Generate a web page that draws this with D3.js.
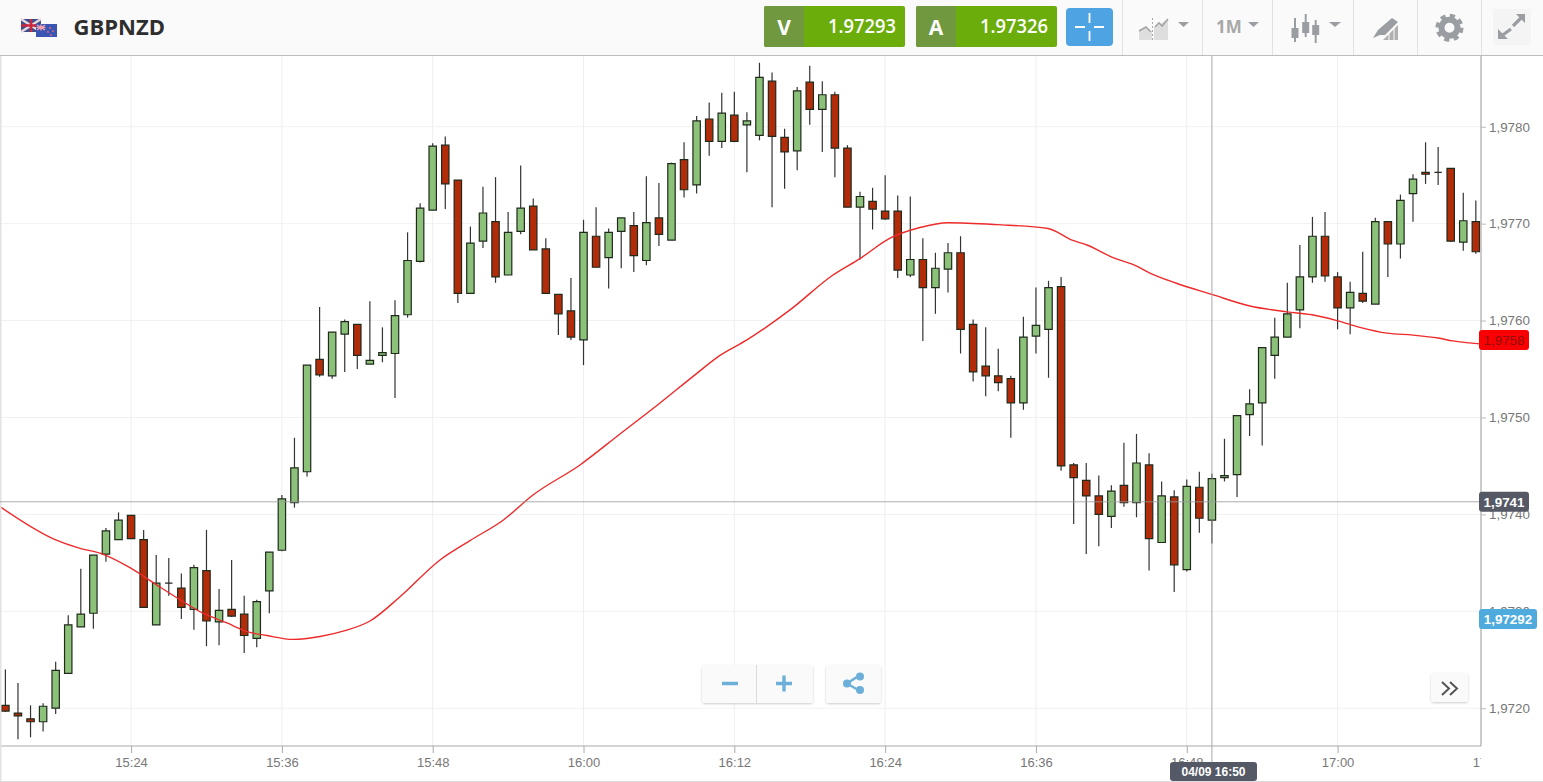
<!DOCTYPE html>
<html>
<head>
<meta charset="utf-8">
<title>GBPNZD</title>
<script src="https://cdn.jsdelivr.net/npm/d3@7"></script>
<style>
    html, body { margin: 0; padding: 0; background: #fff; overflow: hidden; }
    text { font-family: "Liberation Sans", Arial, sans-serif; }
    .tick-label { fill: #777; }
</style>
</head>
<body>
<div id="chart"></div>
<script>

// candles, one per minute from 15:14
var candleOpen = [
    1.97203,1.97195,1.97189,1.97186,1.97200,1.97236,1.97284,1.97298,1.97359,1.97374,
    1.97399,1.97374,1.97286,1.97329,1.97324,1.97302,1.97342,1.97289,1.97302,1.97297,
    1.97272,1.97321,1.97363,1.97412,1.97444,1.97560,1.97543,1.97586,1.97596,1.97555,
    1.97564,1.97566,1.97606,1.97661,1.97714,1.97781,1.97745,1.97628,1.97682,1.97702,
    1.97647,1.97692,1.97718,1.97674,1.97627,1.97610,1.97580,1.97687,1.97665,1.97692,
    1.97698,1.97662,1.97706,1.97683,1.97766,1.97740,1.97808,1.97785,1.97812,1.97802,
    1.97791,1.97847,1.97789,1.97775,1.97846,1.97818,1.97833,1.97778,1.97717,1.97723,
    1.97713,1.97713,1.97647,1.97663,1.97634,1.97653,1.97670,1.97596,1.97553,1.97543,
    1.97540,1.97515,1.97584,1.97591,1.97635,1.97451,1.97435,1.97419,1.97398,1.97430,
    1.97412,1.97451,1.97371,1.97418,1.97343,1.97428,1.97394,1.97438,1.97441,1.97503,
    1.97515,1.97564,1.97583,1.97611,1.97645,1.97687,1.97645,1.97613,1.97628,1.97617,
    1.97702,1.97679,1.97731,1.97753,1.97753,1.97757,1.97681,1.97702
];
var candleClose = [
    1.97197,1.97192,1.97186,1.97202,1.97239,1.97286,1.97297,1.97358,1.97383,1.97394,
    1.97375,1.97304,1.97329,1.97329,1.97304,1.97345,1.97290,1.97301,1.97295,1.97275,
    1.97310,1.97361,1.97416,1.97448,1.97554,1.97544,1.97588,1.97599,1.97564,1.97559,
    1.97567,1.97605,1.97662,1.97716,1.97780,1.97741,1.97628,1.97680,1.97711,1.97645,
    1.97691,1.97716,1.97673,1.97628,1.97607,1.97583,1.97691,1.97655,1.97691,1.97706,
    1.97667,1.97701,1.97689,1.97762,1.97735,1.97806,1.97785,1.97814,1.97785,1.97806,
    1.97851,1.97790,1.97774,1.97837,1.97818,1.97833,1.97778,1.97717,1.97728,1.97715,
    1.97705,1.97652,1.97663,1.97634,1.97654,1.97670,1.97591,1.97547,1.97543,1.97536,
    1.97515,1.97583,1.97595,1.97634,1.97450,1.97438,1.97419,1.97400,1.97424,1.97412,
    1.97453,1.97375,1.97419,1.97348,1.97429,1.97396,1.97437,1.97440,1.97502,1.97514,
    1.97572,1.97583,1.97607,1.97645,1.97687,1.97646,1.97613,1.97629,1.97620,1.97702,
    1.97679,1.97724,1.97746,1.97751,1.97753,1.97682,1.97703,1.97671
];
var candleHigh = [
    1.97240,1.97226,1.97203,1.97205,1.97248,1.97296,1.97344,1.97358,1.97386,1.97402,
    1.97399,1.97384,1.97358,1.97355,1.97339,1.97348,1.97384,1.97323,1.97353,1.97316,
    1.97312,1.97361,1.97420,1.97479,1.97554,1.97614,1.97588,1.97601,1.97596,1.97620,
    1.97593,1.97621,1.97691,1.97721,1.97783,1.97790,1.97745,1.97697,1.97738,1.97748,
    1.97712,1.97760,1.97726,1.97685,1.97627,1.97644,1.97704,1.97717,1.97695,1.97706,
    1.97712,1.97749,1.97742,1.97763,1.97784,1.97811,1.97825,1.97835,1.97836,1.97815,
    1.97866,1.97856,1.97798,1.97841,1.97863,1.97847,1.97836,1.97781,1.97733,1.97737,
    1.97750,1.97729,1.97728,1.97685,1.97670,1.97680,1.97687,1.97601,1.97593,1.97571,
    1.97543,1.97604,1.97634,1.97641,1.97645,1.97453,1.97453,1.97440,1.97430,1.97474,
    1.97483,1.97463,1.97434,1.97425,1.97436,1.97444,1.97442,1.97478,1.97502,1.97529,
    1.97572,1.97603,1.97639,1.97678,1.97707,1.97712,1.97650,1.97640,1.97671,1.97706,
    1.97702,1.97730,1.97751,1.97784,1.97779,1.97757,1.97732,1.97724
];
var candleLow = [
    1.97196,1.97168,1.97170,1.97176,1.97194,1.97236,1.97284,1.97282,1.97351,1.97374,
    1.97375,1.97304,1.97286,1.97316,1.97292,1.97281,1.97264,1.97265,1.97294,1.97257,
    1.97263,1.97298,1.97362,1.97407,1.97439,1.97542,1.97540,1.97547,1.97550,1.97555,
    1.97557,1.97520,1.97603,1.97660,1.97714,1.97715,1.97618,1.97628,1.97675,1.97639,
    1.97647,1.97689,1.97673,1.97628,1.97585,1.97580,1.97554,1.97655,1.97633,1.97654,
    1.97650,1.97657,1.97677,1.97683,1.97727,1.97731,1.97770,1.97778,1.97784,1.97753,
    1.97786,1.97717,1.97736,1.97755,1.97802,1.97774,1.97748,1.97717,1.97663,1.97694,
    1.97704,1.97644,1.97645,1.97579,1.97607,1.97629,1.97566,1.97537,1.97522,1.97527,
    1.97479,1.97508,1.97566,1.97541,1.97445,1.97390,1.97359,1.97367,1.97386,1.97408,
    1.97397,1.97342,1.97371,1.97320,1.97341,1.97381,1.97370,1.97434,1.97418,1.97481,
    1.97471,1.97540,1.97583,1.97592,1.97639,1.97640,1.97591,1.97586,1.97618,1.97617,
    1.97645,1.97664,1.97702,1.97741,1.97740,1.97681,1.97672,1.97669
];

// moving average, minutes after 15:14 and value
var maMinutes = [
    -0.43,3.95,5.94,7.53,9.91,12.06,13.89,15.72,17.63,19.22,20.81,22.88,25.03,27.02,29.01,
    31.4,34.58,36.97,39.6,41.98,45.72,48.9,52.09,54.87,56.86,59,62.43,65.85,68,70.39,72.77,
    75,78.9,82.96,84.87,86.06,88.13,89.88,91.07,93.06,96,99.03,101.97,103.96,105.95,107.78,
    109.93,112,113.99,115.18,117.33
];
var maValues = [
    1.97408,1.97374,1.97365,1.97360,1.97345,1.97327,1.97312,1.97298,1.97288,1.97279,1.97275,
    1.97271,1.97274,1.97280,1.97290,1.97315,1.97353,1.97373,1.97394,1.97420,1.97451,1.97483,
    1.97515,1.97544,1.97564,1.97580,1.97611,1.97647,1.97664,1.97685,1.97696,1.97701,1.97699,
    1.97695,1.97683,1.97678,1.97665,1.97657,1.97649,1.97639,1.97627,1.97615,1.97609,1.97606,
    1.97600,1.97593,1.97587,1.97585,1.97582,1.97579,1.97576
];

var yTicks = [1.972, 1.973, 1.974, 1.975, 1.976, 1.977, 1.978];
var maLast = 1.9758, crossPrice = 1.97413, bidPrice = 1.97292, crossMinute = 96;
var pairName = "GBPNZD", bidText = "1.97293", askText = "1.97326", crossTime = "04/09 16:50";

var startTime = new Date(2015, 8, 4, 15, 14);
var endTime = new Date(2015, 8, 4, 17, 12);
function minuteToDate(m) { return new Date(startTime.getTime() + m * 60000); }

var commaFormat = d3.formatLocale({ decimal: ",", thousands: ".", grouping: [3], currency: ["", ""] });

var plot = { left: 0, right: 1481, top: 56, bottom: 746 };

var svg = d3.select("#chart").append("svg")
    .attr("width", 1543)
    .attr("height", 782)
    .style("display", "block");

var x = d3.scaleTime().domain([startTime, endTime]).range([5.4, 1488.4]);
var y = d3.scaleLinear().domain([1.97161, 1.97873]).range([plot.bottom, plot.top]);

svg.append("defs").append("clipPath").attr("id", "plot-clip")
    .append("rect")
    .attr("x", plot.left).attr("y", plot.top - 1)
    .attr("width", plot.right - plot.left)
    .attr("height", 727);

svg.select("defs").append("filter").attr("id", "btn-shadow")
    .attr("x", "-10%").attr("y", "-10%").attr("width", "120%").attr("height", "130%")
    .append("feDropShadow")
    .attr("dx", 0).attr("dy", 1).attr("stdDeviation", 1)
    .attr("flood-color", "#000").attr("flood-opacity", 0.2);

// grid
svg.append("g").selectAll("line").data(yTicks).enter().append("line")
    .attr("x1", plot.left).attr("x2", plot.right)
    .attr("y1", function (d) { return y(d); }).attr("y2", function (d) { return y(d); })
    .attr("stroke", "#f1f1f1").attr("stroke-width", 1);

var xTicks = x.ticks(d3.timeMinute.every(12));

svg.append("g").attr("clip-path", "url(#plot-clip)")
    .selectAll("line").data(xTicks).enter().append("line")
    .attr("x1", function (d) { return x(d); }).attr("x2", function (d) { return x(d); })
    .attr("y1", plot.top).attr("y2", plot.bottom)
    .attr("stroke", "#eeeeee").attr("stroke-width", 1);

// axes
var xAxis = d3.axisBottom(x).tickValues(xTicks).tickSize(7).tickSizeOuter(0)
    .tickFormat(d3.timeFormat("%H:%M"));
var yAxis = d3.axisRight(y).tickValues(yTicks).tickSize(5).tickSizeOuter(0)
    .tickFormat(commaFormat.format(".4f"));

// the clip sits on an outer group, the axis transform would shift it otherwise
var gx = svg.append("g")
    .attr("clip-path", "url(#plot-clip)")
    .append("g")
    .attr("transform", "translate(0," + plot.bottom + ")")
    .call(xAxis);
gx.select(".domain").remove();
gx.selectAll("line").attr("stroke", "#aaa");
gx.selectAll("text").attr("class", "tick-label").attr("dy", 0).attr("y", 21)
    .attr("font-size", 13).attr("font-family", "'Liberation Sans', Arial, sans-serif");

var gy = svg.append("g")
    .attr("transform", "translate(" + plot.right + ",0)")
    .call(yAxis);
gy.select(".domain").remove();
gy.selectAll("line").attr("stroke", "#bbb");
gy.selectAll("text").attr("class", "tick-label").attr("x", 8)
    .attr("font-size", 13.4).attr("font-family", "'Liberation Sans', Arial, sans-serif");

// candles
var candles = d3.range(candleOpen.length);
var candleWidth = 7.4;
var gc = svg.append("g").attr("clip-path", "url(#plot-clip)");

gc.selectAll("line.wick").data(candles).enter().append("line")
    .attr("class", "wick")
    .attr("x1", function (i) { return x(minuteToDate(i)); })
    .attr("x2", function (i) { return x(minuteToDate(i)); })
    .attr("y1", function (i) { return y(candleHigh[i]); })
    .attr("y2", function (i) { return y(candleLow[i]); })
    .attr("stroke", "#333").attr("stroke-width", 1.2);

gc.selectAll("path.body").data(candles).enter().append("path")
    .attr("class", "body")
    .attr("d", function (i) {
        var top = y(Math.max(candleOpen[i], candleClose[i]));
        var h = y(Math.min(candleOpen[i], candleClose[i])) - top;
        return "M" + (x(minuteToDate(i)) - candleWidth / 2) + "," + top +
            "h" + candleWidth + "v" + h + "h" + (-candleWidth) + "z";
    })
    .attr("fill", function (i) { return candleClose[i] < candleOpen[i] ? "#b32c0a" : "#8cc17a"; })
    .attr("stroke", "#1f2a1c").attr("stroke-width", 1.2);

// moving average
var maLine = d3.line()
    .x(function (d, i) { return x(minuteToDate(maMinutes[i])); })
    .y(function (d) { return y(d); })
    .curve(d3.curveMonotoneX);

gc.append("path").datum(maValues)
    .attr("d", maLine)
    .attr("fill", "none")
    .attr("stroke", "#ee2a2a").attr("stroke-width", 1.4);

// frame
svg.append("line").attr("x1", plot.left).attr("x2", plot.right)
    .attr("y1", plot.bottom).attr("y2", plot.bottom)
    .attr("stroke", "#aaa").attr("stroke-width", 1.2);
svg.append("line").attr("x1", plot.right).attr("x2", plot.right)
    .attr("y1", plot.top).attr("y2", plot.bottom)
    .attr("stroke", "#b5b5b5").attr("stroke-width", 1.4);
svg.append("line").attr("x1", 0.5).attr("x2", 0.5).attr("y1", 0).attr("y2", 782)
    .attr("stroke", "#e2e2e2").attr("stroke-width", 2);
svg.append("line").attr("x1", 0).attr("x2", 1543).attr("y1", 781.5).attr("y2", 781.5)
    .attr("stroke", "#ddd");

// crosshair
svg.append("line").attr("x1", plot.left).attr("x2", plot.right)
    .attr("y1", y(crossPrice)).attr("y2", y(crossPrice))
    .attr("stroke", "#999").attr("stroke-opacity", 0.8);
svg.append("line")
    .attr("x1", x(minuteToDate(crossMinute))).attr("x2", x(minuteToDate(crossMinute)))
    .attr("y1", plot.top).attr("y2", 763)
    .attr("stroke", "#999").attr("stroke-opacity", 0.85);

// price labels on the right
function priceLabel(value, text, width, fill, color) {
    svg.append("rect")
        .attr("x", plot.right - 2).attr("y", y(value) - 10)
        .attr("width", width).attr("height", 20).attr("rx", 3)
        .attr("fill", fill);
    svg.append("text")
        .attr("x", plot.right - 2 + width / 2).attr("y", y(value) + 4.8)
        .attr("text-anchor", "middle")
        .attr("font-size", 13.4).attr("font-weight", color === "#fff" ? "bold" : "normal")
        .attr("fill", color)
        .text(text);
}
priceLabel(maLast, commaFormat.format(".4f")(maLast), 50, "#fb0000", "#8e1010");
priceLabel(crossPrice, commaFormat.format(".4f")(1.9741), 50, "#555965", "#fff");
priceLabel(bidPrice, commaFormat.format(".5f")(bidPrice), 58, "#4fabdd", "#fff");

// time label under the crosshair
svg.append("rect").attr("x", 1170).attr("y", 762).attr("width", 87).attr("height", 19).attr("rx", 3)
    .attr("fill", "#555965");
svg.append("text").attr("x", 1213.5).attr("y", 775.5).attr("text-anchor", "middle")
    .attr("font-size", 12).attr("font-weight", "bold").attr("fill", "#fff")
    .text(crossTime);

// header bar
var head = svg.append("g");
head.append("rect").attr("x", 0).attr("y", 0).attr("width", 1543).attr("height", 55).attr("fill", "#fafafa");
head.append("line").attr("x1", 0).attr("x2", 1543).attr("y1", 55.5).attr("y2", 55.5).attr("stroke", "#bdbdbd");

// flags
head.append("rect").attr("x", 21).attr("y", 19).attr("width", 20).attr("height", 13).attr("fill", "#3d4f8f");
head.append("path").attr("d", "M21,19L41,32M41,19L21,32").attr("stroke", "#e8d8dc").attr("stroke-width", 2.5);
head.append("path").attr("d", "M31,19V32M21,25.5H41").attr("stroke", "#c8283c").attr("stroke-width", 2.4);
head.append("rect").attr("x", 36).attr("y", 24).attr("width", 21).attr("height", 13).attr("fill", "#3a55b4");
head.append("path").attr("d", "M37,25L45,30M45,25L37,30M41,24.5V30.5M36.5,27.5H45.5").attr("stroke", "#f2a0b0").attr("stroke-width", 1.4);
head.selectAll("circle.star").data([[50, 28], [53, 31], [48, 32], [51, 35]]).enter().append("circle")
    .attr("class", "star")
    .attr("cx", function (d) { return d[0]; }).attr("cy", function (d) { return d[1]; })
    .attr("r", 0.9).attr("fill", "#e86a80");

head.append("text").attr("x", 73.5).attr("y", 35)
    .attr("font-size", 22).attr("font-weight", 700).attr("fill", "#2e2e2e")
    .style("font-family", "'Open Sans', sans-serif")
    .text(pairName);

// bid / ask buttons
function priceButton(left, letter, text) {
    head.append("rect").attr("x", left).attr("y", 6).attr("width", 141).attr("height", 41).attr("rx", 2).attr("fill", "#6bae0c");
    head.append("rect").attr("x", left).attr("y", 6).attr("width", 40).attr("height", 41).attr("rx", 2).attr("fill", "#70983f");
    head.append("text").attr("x", left + 20).attr("y", 34.5).attr("text-anchor", "middle")
        .attr("font-size", 21).attr("font-weight", 700).attr("fill", "#fff")
        .style("font-family", "'Open Sans', sans-serif").text(letter);
    head.append("text").attr("x", left + 132).attr("y", 33).attr("text-anchor", "end")
        .attr("font-size", 19).attr("font-weight", 600).attr("fill", "#fff")
        .attr("textLength", 68).attr("lengthAdjust", "spacingAndGlyphs")
        .style("font-family", "'Open Sans', sans-serif").text(text);
}
priceButton(764, "V", bidText);
priceButton(916, "A", askText);

// crosshair button
head.append("rect").attr("x", 1066).attr("y", 8).attr("width", 47).attr("height", 38).attr("rx", 4).attr("fill", "#4ea4e2");
head.append("path").attr("d", "M1089.5,13V23M1089.5,31V41M1075,27H1085M1094,27H1104")
    .attr("stroke", "#fff").attr("stroke-width", 1.8);

// toolbar separators
head.selectAll("line.sep").data([1122, 1202, 1272, 1353, 1417, 1481]).enter().append("line")
    .attr("class", "sep")
    .attr("x1", function (d) { return d + 0.5; }).attr("x2", function (d) { return d + 0.5; })
    .attr("y1", 0).attr("y2", 55)
    .attr("stroke", "#e2e2e2");

var iconGrey = "#9a9ea2";
// chart type icon
head.append("path").attr("d", "M1139,40V31L1146,27L1152,32V40ZM1154,40V27L1160,24L1168,19V40Z").attr("fill", "#dedede");
head.append("path").attr("d", "M1139,31L1146,27L1151,32M1155,27L1159,23L1162,26L1168,19")
    .attr("fill", "none").attr("stroke", "#a4a4a4").attr("stroke-width", 1.6);
head.append("path").attr("d", "M1152.5,18V41").attr("stroke", "#a8a8a8").attr("stroke-dasharray", "2,2");
head.append("path").attr("d", "M1178,22H1189L1183.5,27Z").attr("fill", iconGrey);

// period
head.append("text").attr("x", 1216).attr("y", 33).attr("font-size", 17).attr("font-weight", 700)
    .attr("fill", "#a8a8a8").style("font-family", "'Open Sans', sans-serif").text("1M");
head.append("path").attr("d", "M1248,22H1259L1253.5,27Z").attr("fill", iconGrey);

// candle icon
head.selectAll("rect.ci").data([[1291.5, 28, 10], [1302.2, 22, 11], [1312.2, 25, 10]]).enter().append("rect")
    .attr("class", "ci")
    .attr("x", function (d) { return d[0]; }).attr("y", function (d) { return d[1]; })
    .attr("width", 7).attr("height", function (d) { return d[2]; }).attr("fill", iconGrey);
head.append("path").attr("d", "M1295,18V42M1305.7,14V37M1315.7,20V43").attr("stroke", iconGrey).attr("stroke-width", 2);
head.append("path").attr("d", "M1329,22H1341L1335,27Z").attr("fill", iconGrey);

// pen icon
head.append("path").attr("d", "M1378,30L1392,18L1398,22L1385,35L1380,35L1373,38Z").attr("fill", iconGrey);
head.append("path").attr("d", "M1383,40L1398,25V40Z").attr("fill", "#b0b0b0");
head.append("path").attr("d", "M1389,40V33M1394,40V28").attr("stroke", "#fafafa").attr("stroke-width", 1);

// gear
head.append("circle").attr("cx", 1449.5).attr("cy", 27.7).attr("r", 8)
    .attr("fill", "none").attr("stroke", iconGrey).attr("stroke-width", 6);
head.append("circle").attr("cx", 1449.5).attr("cy", 27.7).attr("r", 12.2)
    .attr("fill", "none").attr("stroke", iconGrey).attr("stroke-width", 3.6).attr("stroke-dasharray", "5.2,4.38");

// expand button
head.append("rect").attr("x", 1493).attr("y", 9).attr("width", 38).attr("height", 36).attr("fill", "#f4f4f4");
head.append("path").attr("d", "M1513,26L1523,16M1511,29L1500,37").attr("stroke", iconGrey).attr("stroke-width", 3.2);
head.append("path").attr("d", "M1516,14H1525V23ZM1498,29V39H1508Z").attr("fill", iconGrey);

// buttons on the plot
function plotButton(left, top, w, h) {
    svg.append("rect").attr("x", left).attr("y", top).attr("width", w).attr("height", h).attr("rx", 3)
        .attr("fill", "#fafafa").attr("filter", "url(#btn-shadow)");
}
var blue = "#6cafd8";
plotButton(702, 665, 111, 38);
svg.append("line").attr("x1", 756.5).attr("x2", 756.5).attr("y1", 665).attr("y2", 703).attr("stroke", "#dcdcdc");
svg.append("path").attr("d", "M722,683.5H738M776,683.5H792M784,675.5V691.5")
    .attr("stroke", blue).attr("stroke-width", 3.4);
plotButton(826, 665, 55, 38);
svg.append("path").attr("d", "M860,675L847,683.5L860,691").attr("fill", "none").attr("stroke", blue).attr("stroke-width", 2.5);
svg.selectAll("circle.share").data([[860, 676.5], [847, 683.5], [860, 690]]).enter().append("circle")
    .attr("class", "share")
    .attr("cx", function (d) { return d[0]; }).attr("cy", function (d) { return d[1]; })
    .attr("r", 4).attr("fill", blue);

plotButton(1431, 673, 37, 29);
svg.append("path").attr("d", "M1442,682L1449,688.5L1442,695M1450,682L1457,688.5L1450,695")
    .attr("fill", "none").attr("stroke", "#555").attr("stroke-width", 2);

</script>
</body>
</html>
